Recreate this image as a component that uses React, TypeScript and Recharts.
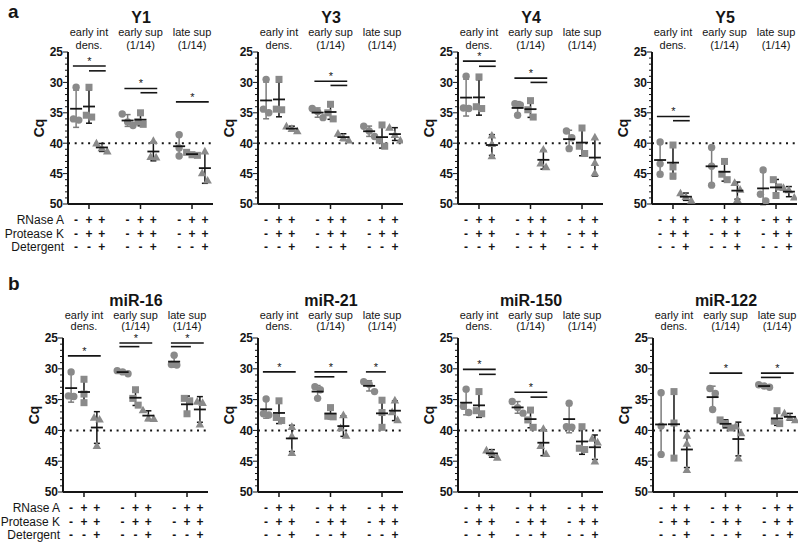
import React from "react";
import { ComposedChart, Scatter, XAxis, YAxis, ErrorBar, ReferenceLine } from "recharts";

const FONT = "'Liberation Sans', Arial, Helvetica, sans-serif";
const INK = "#151515";
const GREY = "#8a8a8a";
const BAR_GREY = "#7c7c7c";

// three treatments per fraction, one empty slot between fractions
const columnX = [0, 1, 2, 4, 5, 6, 8, 9, 10];
const groupCenters = [1, 5, 9];
const groupLabels = [
  ["early int", "dens."],
  ["early sup", "(1/14)"],
  ["late sup", "(1/14)"],
];
const treatmentNames = ["RNase A", "Protease K", "Detergent"];
const rnaseA = ["-", "+", "+"];
const proteaseK = ["-", "+", "+"];
const detergent = ["-", "-", "+"];
const detectionLimit = 40;

// Cq of the three replicates in each column (left to right)
const y1Cq = [
  [30.8, 36.2, 36.0], [30.8, 35.7, 35.4], [40.0, 40.8, 41.3],
  [35.2, 37.1, 36.5], [35.0, 36.9, 36.5], [39.6, 42.2, 42.3],
  [38.6, 40.8, 42.1], [41.5, 41.9, 42.0], [41.3, 44.9, 46.1],
];
const y3Cq = [
  [29.5, 35.0, 34.4], [29.5, 34.5, 34.4], [37.2, 37.6, 38.0],
  [34.3, 35.8, 34.8], [33.6, 36.0, 35.0], [38.4, 39.1, 39.5],
  [37.2, 38.9, 38.0], [37.0, 40.5, 39.5], [37.4, 38.6, 39.5],
];
const y4Cq = [
  [29.0, 34.3, 34.2], [29.1, 34.3, 34.0], [38.7, 40.1, 42.1],
  [33.5, 33.7, 35.4], [33.0, 35.7, 34.5], [41.0, 43.3, 43.9],
  [38.0, 39.1, 40.9], [37.5, 40.5, 41.7], [39.0, 43.2, 44.9],
];
const y5Cq = [
  [39.8, 43.4, 45.1], [40.3, 45.4, 43.9], [48.2, 48.8, 49.4],
  [40.7, 43.8, 46.9], [43.0, 46.0, 45.1], [46.5, 47.6, 49.3],
  [44.4, 49.5, 48.4], [46.0, 47.2, 48.6], [47.3, 47.7, 48.9],
];
const mir16Cq = [
  [30.5, 34.5, 34.4], [31.7, 35.5, 34.1], [37.9, 38.2, 42.5],
  [30.3, 30.5, 30.8], [33.4, 34.8, 35.9], [36.7, 38.0, 38.1],
  [27.8, 29.4, 29.3], [34.8, 35.2, 37.3], [35.3, 35.5, 39.0],
];
const mir21Cq = [
  [34.9, 37.5, 37.3], [35.2, 38.4, 37.9], [39.4, 40.9, 43.6],
  [32.9, 33.4, 34.8], [36.3, 37.7, 37.8], [37.5, 39.6, 40.8],
  [32.1, 32.5, 33.7], [35.1, 37.1, 39.5], [35.1, 37.0, 38.3],
];
const mir150Cq = [
  [33.3, 37.1, 36.1], [33.7, 37.3, 36.8], [43.2, 43.6, 44.4],
  [35.3, 37.2, 36.3], [36.7, 39.5, 38.3], [39.7, 43.8, 42.5],
  [35.6, 39.5, 39.4], [39.4, 43.1, 42.9], [41.3, 41.9, 45.0],
];
const mir122Cq = [
  [33.9, 39.3, 43.9], [33.7, 38.8, 44.5], [40.8, 42.1, 46.4],
  [33.2, 34.0, 36.6], [38.3, 38.9, 39.6], [39.3, 40.4, 44.5],
  [32.6, 32.8, 33.0], [36.8, 38.9, 38.5], [37.2, 37.9, 38.3],
];

// significance bars: [from column, to column, Cq level]
type Sig = [number, number, number];
const y1Sig: Sig[] = [[0, 2, 27.3], [1, 2, 28.1], [4, 6, 31.0], [5, 6, 31.7], [8, 10, 33.2]];
const y3Sig: Sig[] = [[4, 6, 29.8], [5, 6, 30.5]];
const y4Sig: Sig[] = [[0, 2, 26.5], [1, 2, 27.35], [4, 6, 29.3], [5, 6, 30.0]];
const y5Sig: Sig[] = [[0, 2, 35.6], [1, 2, 36.3]];
const mir16Sig: Sig[] = [[0, 2, 27.9], [4, 6, 25.8], [4, 5, 26.4], [8, 10, 25.8], [8, 9, 26.4]];
const mir21Sig: Sig[] = [[0, 2, 30.5], [4, 6, 30.5], [4, 5, 31.3], [8, 9, 30.5]];
const mir150Sig: Sig[] = [[0, 2, 30.1], [1, 2, 30.9], [4, 6, 33.8], [5, 6, 34.6]];
const mir122Sig: Sig[] = [[4, 6, 30.7], [8, 10, 30.7], [8, 9, 31.4]];

const rows = [
  { plotTop: 52, plotH: 152, labelDy: [-16, -3.5], titleY: 23, labelRight: 64, letter: "a", letterY: 18 },
  { plotTop: 338, plotH: 154, labelDy: [-19, -8], titleY: 305.5, labelRight: 60, letter: "b", letterY: 290 },
];

const panels = [
  { title: "Y1", cq: y1Cq, sig: y1Sig, axisX: 68, row: 0 },
  { title: "Y3", cq: y3Cq, sig: y3Sig, axisX: 258, row: 0 },
  { title: "Y4", cq: y4Cq, sig: y4Sig, axisX: 458, row: 0 },
  { title: "Y5", cq: y5Cq, sig: y5Sig, axisX: 652, row: 0 },
  { title: "miR-16", cq: mir16Cq, sig: mir16Sig, axisX: 63, row: 1 },
  { title: "miR-21", cq: mir21Cq, sig: mir21Sig, axisX: 258, row: 1 },
  { title: "miR-150", cq: mir150Cq, sig: mir150Sig, axisX: 458, row: 1 },
  { title: "miR-122", cq: mir122Cq, sig: mir122Sig, axisX: 653, row: 1 },
];

const AXIS_W = 40;
const PLOT_W = 145;
const RIGHT = 4;
const TOP_H = 40;
const BOTTOM_H = 50;
const X_DOMAIN: [number, number] = [-0.63, 10.63];
const minorTicks = Array.from({ length: 26 }, (_, i) => 25 + i);

function meanSd(vals: number[]) {
  const mean = vals.reduce((a, b) => a + b, 0) / vals.length;
  const variance = vals.reduce((a, b) => a + (b - mean) ** 2, 0) / (vals.length - 1);
  return { mean, sd: Math.sqrt(variance) };
}

// side-by-side placement of replicates that would overlap
function spread(vals: number[]): number[] {
  const order = vals.map((_, i) => i).sort((a, b) => vals[a] - vals[b]);
  const offsets = vals.map(() => 0);
  let start = 0;
  while (start < order.length) {
    let end = start;
    while (end + 1 < order.length && vals[order[end + 1]] - vals[order[end]] < 1.3) end++;
    const k = end - start + 1;
    for (let j = start; j <= end; j++) offsets[order[j]] = (j - start - (k - 1) / 2) * 0.42;
    start = end + 1;
  }
  return offsets;
}

const markerShapes = [
  (p: any) => <circle cx={p.cx} cy={p.cy} r={3.7} fill={GREY} />,
  (p: any) => <rect x={p.cx - 3.5} y={p.cy - 3.5} width={7} height={7} fill={GREY} />,
  (p: any) => (
    <polygon
      points={`${p.cx},${p.cy - 4.4} ${p.cx - 4.3},${p.cy + 3.3} ${p.cx + 4.3},${p.cy + 3.3}`}
      fill={GREY}
    />
  ),
];

const meanShape = (p: any) => (
  <line x1={p.cx - 6} x2={p.cx + 6} y1={p.cy} y2={p.cy} stroke={INK} strokeWidth={1.8} />
);

function starLabel(lp: any) {
  const vb = lp.viewBox ?? {};
  const x = (vb.x ?? 0) + (vb.width ?? 0) / 2;
  return (
    <text x={x} y={(vb.y ?? 0) - 1} textAnchor="middle" fontSize={11} fontFamily={FONT} fill={INK}>
      *
    </text>
  );
}

function renderYTick(p: any) {
  const major = p.payload.value % 5 === 0;
  return (
    <g>
      <line x1={p.x - (major ? 5 : 3)} x2={p.x} y1={p.y} y2={p.y} stroke={INK} strokeWidth={1} />
      {major && (
        <text
          x={p.x - 5}
          y={p.y + 4.3}
          textAnchor="end"
          fontSize={12}
          fontWeight={700}
          fontFamily={FONT}
          fill={INK}
        >
          {p.payload.value}
        </text>
      )}
    </g>
  );
}

// bottom axis: treatment table below, fraction names above the plot
function renderColumnTick(p: any, plotH: number, dy: number[]) {
  const k = Math.round(p.payload.value) % 4;
  const signs = [rnaseA[k], proteaseK[k], detergent[k]];
  const label = k === 1 ? groupLabels[groupCenters.indexOf(Math.round(p.payload.value))] : null;
  return (
    <g>
      {k === 1 && <line x1={p.x} x2={p.x} y1={p.y} y2={p.y + 5} stroke={INK} strokeWidth={1.5} />}
      {signs.map((s, i) => (
        <text
          key={i}
          x={p.x}
          y={p.y + 20 + i * 13.5}
          textAnchor="middle"
          fontSize={12}
          fontWeight={700}
          fontFamily={FONT}
          fill={INK}
        >
          {s}
        </text>
      ))}
      {label &&
        label.map((t, i) => (
          <text
            key={`g${i}`}
            x={p.x}
            y={p.y - plotH + dy[i]}
            textAnchor="middle"
            fontSize={11}
            fontFamily={FONT}
            fill={INK}
          >
            {t}
          </text>
        ))}
    </g>
  );
}

function Panel({ panel }: { panel: (typeof panels)[number] }) {
  const row = rows[panel.row];
  const points: { x: number; y: number }[][] = [[], [], []];
  const means: { x: number; y: number; sd: number }[][] = [[], [], []];
  panel.cq.forEach((vals, i) => {
    const x = columnX[i];
    const k = i % 3;
    const offs = spread(vals);
    vals.forEach((v, j) => points[k].push({ x: x + offs[j], y: v }));
    const s = meanSd(vals);
    means[k].push({ x, y: s.mean, sd: s.sd });
  });

  const segs = panel.sig.map(([from, to, cq]) => ({
    x1: from % 4 === 0 ? from - 0.25 : from,
    x2: to + 0.3,
    cq,
    group: Math.floor(from / 4),
  }));
  // the star sits over the highest bar of each fraction
  const starred = new Set<number>();
  [0, 1, 2].forEach((g) => {
    let best = -1;
    segs.forEach((s, i) => {
      if (s.group === g && (best < 0 || s.cq < segs[best].cq)) best = i;
    });
    if (best >= 0) starred.add(best);
  });

  const width = AXIS_W + PLOT_W + RIGHT;
  const height = TOP_H + row.plotH + BOTTOM_H;

  return (
    <div style={{ position: "absolute", left: panel.axisX - AXIS_W, top: row.plotTop - TOP_H }}>
      <ComposedChart width={width} height={height} margin={{ top: TOP_H, right: RIGHT, bottom: 0, left: 0 }}>
        <XAxis
          type="number"
          dataKey="x"
          domain={X_DOMAIN}
          allowDataOverflow
          ticks={columnX}
          interval={0}
          height={BOTTOM_H}
          axisLine={{ stroke: INK, strokeWidth: 2 }}
          tickLine={false}
          tickSize={0}
          tickMargin={0}
          tick={(p: any) => renderColumnTick(p, row.plotH, row.labelDy)}
        />
        <YAxis
          type="number"
          dataKey="y"
          reversed
          domain={[25, 50]}
          allowDataOverflow
          ticks={minorTicks}
          interval={0}
          width={AXIS_W}
          axisLine={{ stroke: INK, strokeWidth: 2 }}
          tickLine={false}
          tickSize={0}
          tickMargin={0}
          tick={renderYTick}
        />
        <ReferenceLine y={detectionLimit} stroke={INK} strokeWidth={2} strokeDasharray="2 4.7" />
        {segs.map((s, i) => (
          <ReferenceLine
            key={i}
            segment={[
              { x: s.x1, y: s.cq },
              { x: s.x2, y: s.cq },
            ]}
            stroke={INK}
            strokeWidth={1.6}
            ifOverflow="visible"
            label={starred.has(i) ? starLabel : undefined}
          />
        ))}
        {points.map((d, k) => (
          <Scatter key={`p${k}`} data={d} shape={markerShapes[k]} isAnimationActive={false} />
        ))}
        {means.map((d, k) => (
          <Scatter key={`m${k}`} data={d} shape={meanShape} isAnimationActive={false}>
            <ErrorBar
              dataKey="sd"
              direction="y"
              width={3}
              stroke={k === 0 ? BAR_GREY : INK}
              strokeWidth={1.5}
              isAnimationActive={false}
            />
          </Scatter>
        ))}
      </ComposedChart>
    </div>
  );
}

export default function App() {
  return (
    <div
      style={{
        position: "absolute",
        left: 0,
        top: 0,
        width: 800,
        height: 543,
        background: "#fff",
        fontFamily: FONT,
        overflow: "hidden",
      }}
    >
      {panels.map((p) => (
        <Panel key={p.title} panel={p} />
      ))}
      <svg width={800} height={543} style={{ position: "absolute", left: 0, top: 0, pointerEvents: "none" }}>
        {rows.map((r) => (
          <g key={r.letter}>
            <text x={8} y={r.letterY} fontSize={19} fontWeight={700} fontFamily={FONT} fill={INK}>
              {r.letter}
            </text>
            {treatmentNames.map((t, i) => (
              <text
                key={t}
                x={r.labelRight}
                y={r.plotTop + r.plotH + 20 + i * 13.5}
                textAnchor="end"
                fontSize={12}
                fontFamily={FONT}
                fill={INK}
              >
                {t}
              </text>
            ))}
          </g>
        ))}
        {panels.map((p) => {
          const r = rows[p.row];
          const cy = r.plotTop + r.plotH / 2;
          return (
            <g key={p.title}>
              <text
                x={p.axisX + 73}
                y={r.titleY}
                textAnchor="middle"
                fontSize={16}
                fontWeight={700}
                fontFamily={FONT}
                fill={INK}
              >
                {p.title}
              </text>
              <text
                transform={`translate(${p.axisX - 29},${cy}) rotate(-90)`}
                textAnchor="middle"
                dominantBaseline="central"
                fontSize={14}
                fontWeight={700}
                fontFamily={FONT}
                fill={INK}
              >
                Cq
              </text>
            </g>
          );
        })}
      </svg>
    </div>
  );
}
